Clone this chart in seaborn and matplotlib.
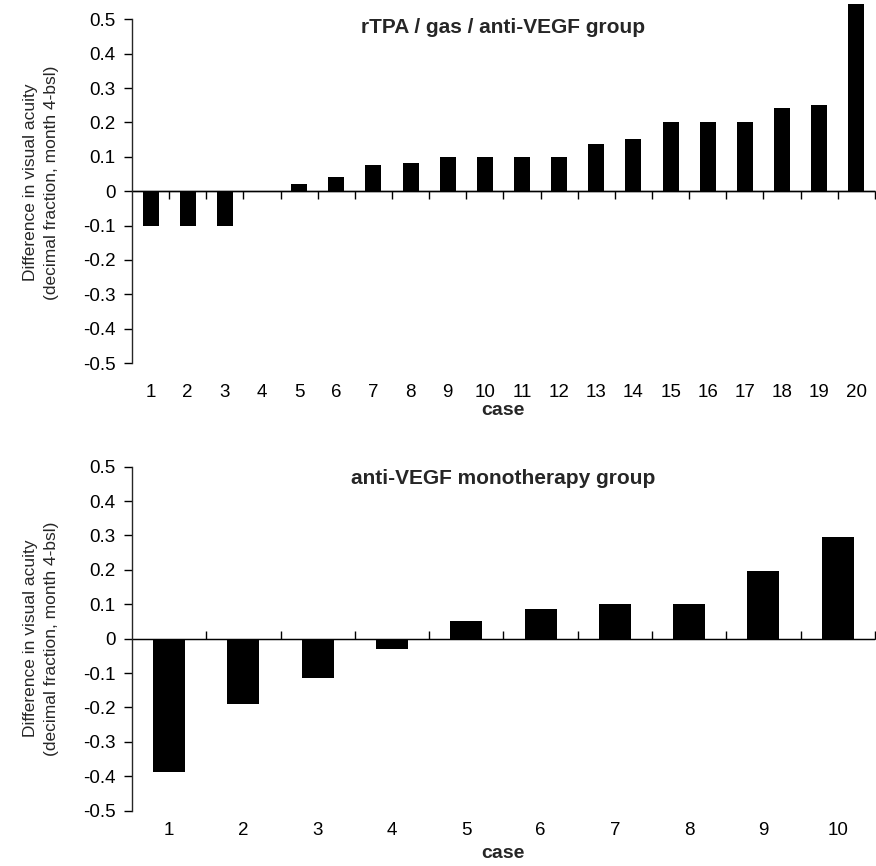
import numpy as np
import pandas as pd
import matplotlib
matplotlib.use('Agg')
import matplotlib.pyplot as plt
import seaborn as sns

# values
cases_top = [str(i) for i in range(1, 21)]
diff_top = [-0.10, -0.10, -0.10, 0.0, 0.02, 0.04, 0.075, 0.083, 0.10, 0.10,
            0.10, 0.10, 0.137, 0.152, 0.20, 0.20, 0.20, 0.243, 0.25, 0.544]

cases_bottom = [str(i) for i in range(1, 11)]
diff_bottom = [-0.388, -0.19, -0.115, -0.029, 0.05, 0.085, 0.10, 0.10, 0.198, 0.295]

title_top = 'rTPA / gas / anti-VEGF group'
title_bottom = 'anti-VEGF monotherapy group'
ylabel = 'Difference in visual acuity\n(decimal fraction, month 4-bsl)'
yticks = [-0.5, -0.4, -0.3, -0.2, -0.1, 0, 0.1, 0.2, 0.3, 0.4, 0.5]
ytick_labels = ['-0.5', '-0.4', '-0.3', '-0.2', '-0.1', '0', '0.1', '0.2', '0.3', '0.4', '0.5']

sns.set_style('ticks')
plt.rcParams['font.family'] = ['Liberation Sans', 'DejaVu Sans']


def bar_panel(ax, cases, values, title, ymax, title_y, xpad, xlabelpad):
    df = pd.DataFrame({'case': cases, 'diff': values})
    sns.barplot(data=df, x='case', y='diff', color='black', width=0.43,
                saturation=1, ax=ax, errorbar=None, edgecolor='black',
                linewidth=0, zorder=3)
    n = len(cases)
    ax.set_xlim(-0.5, n - 0.5)
    ax.set_ylim(-0.5, ymax)
    ax.set_yticks(yticks, ytick_labels)
    ax.spines['left'].set_bounds(-0.5, 0.5)
    ax.spines['left'].set_linewidth(1.0)
    for s in ['top', 'right', 'bottom']:
        ax.spines[s].set_visible(False)
    ax.tick_params(axis='y', direction='out', length=6, width=1, pad=6,
                   labelsize=13.5, color='black', labelcolor='black')
    ax.tick_params(axis='x', length=0, pad=xpad, labelsize=13.5, labelcolor='black')
    ax.set_xlabel('case', fontsize=14, fontweight='bold', labelpad=xlabelpad)
    ax.set_ylabel(ylabel, fontsize=12.5, labelpad=17, linespacing=1.55)

    # zero line with ticks between the categories
    zero_frac = 0.5 / (ymax + 0.5)
    ax.axhline(0, color='black', lw=1.0, zorder=2)
    sec = ax.secondary_xaxis(zero_frac)
    sec.set_xticks(np.arange(n) + 0.5, [''] * n)
    sec.tick_params(direction='out', length=6, width=1, color='black')
    sec.spines['bottom'].set_linewidth(1.0)

    ax.text(0.5, title_y, title, transform=ax.transAxes, ha='center', va='center',
            fontsize=15, fontweight='bold')


fig = plt.figure(figsize=(8.76, 8.66), dpi=100)
ax1 = fig.add_axes([0.1507, 0.5808, 0.848, 0.4167])
ax2 = fig.add_axes([0.1507, 0.0639, 0.848, 0.3972])

bar_panel(ax1, cases_top, diff_top, title_top, 0.55, 0.93, 15, 1)
bar_panel(ax2, cases_bottom, diff_bottom, title_bottom, 0.5, 0.967, 8, 4.5)

fig.savefig('out.png', dpi=100)
